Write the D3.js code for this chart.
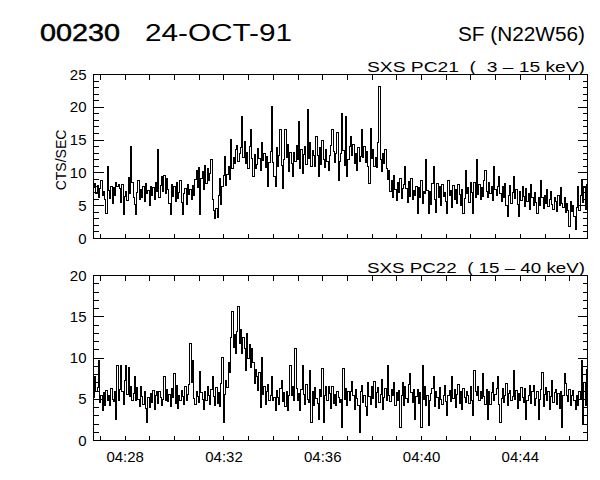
<!DOCTYPE html>
<html><head><meta charset="utf-8">
<script src="https://cdn.jsdelivr.net/npm/d3@7"></script>
<style>body{margin:0;background:#fff}svg{display:block}text{font-family:"Liberation Sans","DejaVu Sans",sans-serif;fill:#000;white-space:pre}</style>
</head><body>
<svg id="c" width="600" height="480"></svg>
<script>
// ---- data ----
const startTime = "1991-10-24T04:26:43";
const binSeconds = 3;
const pc21 = [
7.8,8.4,6.9,8.1,6.2,7.6,8.9,6.5,7.2,5.9,3.8,11.0,7.3,6.1,8.0,5.4,7.7,6.6,8.5,7.9,
8.3,7.6,5.5,8.2,3.6,6.4,7.1,5.8,9.3,6.9,14.0,8.6,6.3,5.2,3.7,7.0,8.8,5.9,7.5,6.2,
7.9,5.6,8.4,6.8,7.3,5.1,8.0,6.5,7.7,6.0,8.5,7.1,13.5,6.2,8.1,9.4,7.2,9.6,6.9,9.1,
7.4,5.3,3.6,8.2,6.4,7.9,5.7,8.6,6.1,7.0,8.9,5.5,3.6,6.9,7.6,5.2,8.3,6.7,7.4,5.9,
8.1,6.5,9.0,10.4,7.8,10.8,3.7,9.1,10.2,7.5,11.2,8.4,10.6,8.8,9.9,12.0,6.0,4.2,3.0,4.5,
3.2,6.5,9.2,5.2,8.0,9.6,12.5,8.1,9.8,11.0,9.0,15.1,10.6,12.3,11.4,13.6,14.2,11.8,12.9,13.8,
18.6,12.4,14.8,11.5,13.1,10.7,14.0,16.6,12.2,9.4,12.8,10.6,11.3,13.7,12.2,10.3,14.6,11.9,13.0,10.8,
12.5,7.9,11.6,13.3,20.1,11.6,9.5,7.9,13.9,11.0,12.7,16.6,11.2,7.6,12.1,16.6,12.4,14.3,10.2,13.1,
11.5,9.4,13.1,11.8,14.2,12.0,17.8,10.7,13.5,9.9,12.8,14.1,11.3,19.6,12.2,14.6,11.0,13.4,12.7,10.9,
15.5,12.7,9.4,13.8,11.3,14.9,12.1,10.8,13.5,11.7,10.4,12.6,14.2,16.6,13.2,11.6,12.9,16.2,8.9,11.8,
13.0,19.1,13.4,11.2,18.6,9.4,12.0,14.1,15.5,12.6,14.4,11.5,13.0,10.4,13.9,11.8,12.5,16.6,12.3,14.0,
11.6,13.2,10.9,8.4,16.8,12.2,13.6,11.0,12.4,10.8,14.7,23.2,12.1,10.2,12.9,11.4,13.5,10.6,9.0,10.4,
7.2,8.8,6.3,9.6,7.4,5.8,8.5,7.0,9.2,6.1,7.6,8.3,11.0,7.6,5.5,8.7,6.4,9.1,5.9,7.3,
6.6,8.0,3.8,7.7,6.2,8.9,5.4,7.1,6.8,12.0,7.3,3.8,7.1,5.2,8.4,11.0,6.0,3.9,8.4,6.2,
7.9,5.1,8.3,6.4,7.0,5.6,3.8,8.8,6.5,7.3,4.8,8.1,6.0,7.4,5.4,8.2,6.7,5.0,7.5,3.8,
6.1,10.4,6.9,7.8,5.5,8.6,7.0,3.8,8.6,6.3,12.0,6.7,8.2,5.9,7.7,6.4,8.9,10.4,7.1,6.3,
8.5,6.8,7.9,5.8,11.0,7.4,6.6,8.0,9.4,6.8,5.6,7.9,6.2,8.4,5.1,3.3,6.6,8.1,5.4,7.0,
9.4,6.1,7.5,5.2,3.3,7.2,5.8,8.0,6.4,4.9,7.6,5.7,6.8,4.4,8.3,6.2,5.1,7.0,5.5,3.8,
6.3,5.0,8.9,6.2,4.6,6.5,5.3,7.4,4.9,6.0,7.2,5.2,4.4,6.3,5.6,4.1,6.6,5.0,7.8,5.3,
4.7,6.2,3.9,5.4,4.3,1.8,5.6,4.1,5.0,3.4,1.3,4.8,7.9,4.2,6.6,9.0,5.5,7.8,4.4,8.2];
const pc22 = [
5.2,7.8,5.9,6.4,9.7,4.6,5.5,3.6,5.8,4.2,6.1,4.9,5.5,4.3,6.3,5.0,4.7,5.9,2.6,9.1,
4.8,6.2,9.1,6.0,4.4,7.3,9.1,5.6,8.9,5.3,6.6,4.8,5.7,7.7,4.9,6.4,5.0,4.1,6.6,5.3,
4.4,5.9,3.9,2.2,5.2,4.0,5.7,4.6,6.1,3.8,5.4,5.9,4.5,6.0,5.2,4.3,5.0,7.7,4.8,6.2,
4.7,5.6,4.1,6.3,5.2,8.1,4.5,6.7,3.9,5.5,4.8,6.1,5.3,4.4,6.5,4.9,5.6,6.8,11.7,7.0,
9.7,5.1,4.4,6.0,5.3,4.6,8.4,5.8,5.0,3.8,6.0,4.9,6.5,5.4,4.4,6.2,7.7,5.3,4.2,6.4,
4.5,5.8,4.1,6.9,10.1,2.2,5.6,7.3,6.4,9.5,8.2,12.5,15.6,11.3,12.9,10.5,13.2,16.2,11.8,13.5,
10.6,12.5,11.2,8.5,13.0,9.9,11.6,8.8,11.1,9.4,6.9,8.6,7.7,6.1,8.2,4.0,10.1,5.6,6.5,4.4,
5.9,6.8,4.8,5.5,7.7,4.8,5.2,3.6,6.1,5.2,4.4,6.3,7.3,4.7,5.8,4.1,6.0,3.6,5.4,9.1,
5.4,6.6,4.9,11.1,6.3,4.9,5.7,3.6,6.2,9.1,5.6,4.4,6.8,5.0,4.6,8.5,2.2,5.9,4.3,6.4,
5.1,4.5,2.6,6.2,5.3,8.7,2.2,5.5,6.5,4.8,6.5,5.7,3.9,6.6,4.5,5.6,4.2,6.0,5.2,4.6,
5.0,1.6,8.7,5.0,6.3,4.2,5.9,4.8,6.0,7.1,5.4,3.8,6.2,5.1,4.3,1.0,5.9,6.7,4.6,5.5,
4.1,3.0,7.0,5.3,4.4,6.5,5.1,7.2,4.0,5.8,6.4,4.6,5.6,7.4,3.7,5.2,6.3,4.9,9.1,5.5,
4.7,6.2,5.5,7.0,4.3,5.8,4.9,6.1,1.6,5.5,7.0,4.3,6.5,5.1,4.6,6.8,8.1,5.8,4.6,6.2,
2.6,5.3,6.2,4.5,5.8,1.6,9.1,5.0,6.6,4.2,5.5,1.8,4.8,5.7,6.3,7.7,4.1,6.0,5.2,3.9,
6.4,5.0,4.4,5.5,6.7,4.7,3.0,5.5,6.1,4.7,7.7,5.1,6.2,4.0,5.6,6.8,4.5,5.9,3.7,6.3,
5.2,4.6,6.0,5.4,4.5,6.6,4.8,3.0,8.5,5.9,5.4,6.6,4.8,6.0,5.1,8.1,5.3,4.4,6.2,2.6,
6.0,4.4,5.8,7.0,4.9,5.6,6.3,7.7,4.4,2.2,5.1,6.3,4.6,5.5,6.9,4.2,5.7,6.1,4.8,5.3,
8.5,5.0,6.1,3.9,5.7,4.9,6.4,5.2,4.6,6.3,2.6,4.8,5.4,6.7,4.5,5.9,6.7,4.3,5.1,6.0,
2.6,5.0,6.2,8.3,4.1,5.6,6.4,4.9,6.0,3.8,5.3,7.3,4.6,5.8,6.2,4.4,5.7,3.9,6.0,1.6,
5.5,8.1,6.9,5.4,4.7,6.2,4.3,5.5,6.1,4.9,3.8,5.4,4.3,6.0,5.1,9.7,2.0,7.0,4.2,8.6];
const timeTicks = ["04:28","04:32","04:36","04:40","04:44"];
const top21Ticks = [0,5,10,15,20,25];
const bot22Ticks = [0,5,10,15,20];
const titleId = "00230", titleDate = "24-OCT-91", titleEvent = "SF (N22W56)";
const label21 = "SXS PC21  (  3 \u2013 15 keV)", label22 = "SXS PC22  ( 15 \u2013 40 keV)";
const yTitle = "CTS/SEC";

// ---- drawing ----
const svg = d3.select("#c");
const t0 = new Date(startTime);
const tEnd = new Date(t0.getTime() + pc21.length * binSeconds * 1000);
const X0 = 93.5, X1 = 587.5;
const x = d3.scaleTime().domain([t0, tEnd]).range([X0, X1]);
const timeOf = i => new Date(t0.getTime() + (i + 0.5) * binSeconds * 1000);
const parseHM = s => { const [h, m] = s.split(":").map(Number); const d = new Date(t0); d.setHours(h, m, 0, 0); return d; };
const minuteTicks = d3.timeMinute.range(t0, tEnd);

function panel(vals, ymax, majors, yTop, yBot, label, showX) {
  const y = d3.scaleLinear().domain([0, ymax]).range([yBot, yTop]);
  const g = svg.append("g").attr("shape-rendering", "crispEdges");
  g.append("rect").attr("x", X0).attr("y", yTop).attr("width", X1 - X0).attr("height", yBot - yTop)
    .attr("fill", "none").attr("stroke", "#000");
  d3.range(0, ymax + 0.001, 1).forEach(v => {
    const len = (v % 5 === 0) ? 10 : 5;
    g.append("line").attr("x1", X0).attr("x2", X0 + len).attr("y1", y(v)).attr("y2", y(v)).attr("stroke", "#000");
    g.append("line").attr("x1", X1).attr("x2", X1 - len).attr("y1", y(v)).attr("y2", y(v)).attr("stroke", "#000");
  });
  majors.forEach(v => {
    svg.append("text").attr("x", X0 - 7).attr("y", y(v) + 5).attr("text-anchor", "end")
      .attr("font-size", 15).text(v);
  });
  minuteTicks.forEach(t => {
    g.append("line").attr("x1", x(t)).attr("x2", x(t)).attr("y1", yBot).attr("y2", yBot - 5).attr("stroke", "#000");
    g.append("line").attr("x1", x(t)).attr("x2", x(t)).attr("y1", yTop).attr("y2", yTop + 5).attr("stroke", "#000");
  });
  if (showX) {
    timeTicks.forEach(s => {
      svg.append("text").attr("x", x(parseHM(s))).attr("y", yBot + 21).attr("text-anchor", "middle")
        .attr("font-size", 15).text(s);
    });
  }
  const line = d3.line().x((d, i) => x(timeOf(i))).y(d => y(d)).curve(d3.curveStep);
  g.append("path").datum(vals).attr("d", line).attr("fill", "none").attr("stroke", "#000").attr("stroke-width", 1);
  svg.append("text").attr("x", 585).attr("y", yTop - 3).attr("text-anchor", "end")
    .attr("font-size", 14).attr("textLength", 218).attr("lengthAdjust", "spacingAndGlyphs").text(label);
}

panel(pc21, 25, top21Ticks, 74.5, 238.5, label21, false);
panel(pc22, 20, bot22Ticks, 275.5, 440.5, label22, true);

svg.append("text").attr("transform", "translate(66,160) rotate(-90)").attr("text-anchor", "middle")
  .attr("font-size", 14).text(yTitle);
svg.append("text").attr("x", 40).attr("y", 41).attr("font-size", 24)
  .attr("stroke", "#000").attr("stroke-width", 0.5)
  .attr("textLength", 80).attr("lengthAdjust", "spacingAndGlyphs").text(titleId);
svg.append("text").attr("x", 145).attr("y", 41).attr("font-size", 24)
  .attr("textLength", 147).attr("lengthAdjust", "spacingAndGlyphs").text(titleDate);
svg.append("text").attr("x", 458).attr("y", 41).attr("font-size", 20)
  .attr("textLength", 127).attr("lengthAdjust", "spacingAndGlyphs").text(titleEvent);
</script>
</body></html>
